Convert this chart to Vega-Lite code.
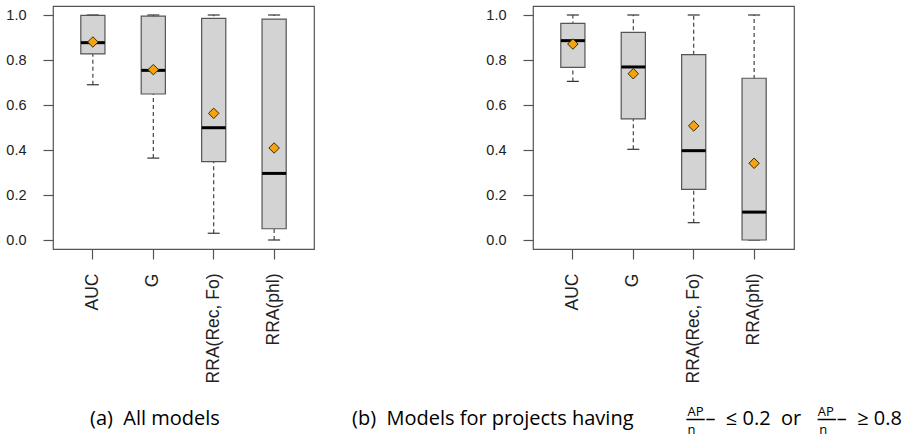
{
  "$schema": "https://vega.github.io/schema/vega-lite/v6.json",
  "padding": 5,
  "bounds": "flush",
  "spacing": 219,
  "background": "white",
  "config": {
    "view": {"stroke": "#555555", "strokeWidth": 1.2},
    "font": "Liberation Sans",
    "axis": {"grid": false, "domain": false, "tickColor": "#555555", "tickWidth": 1.2, "tickSize": 10, "labelColor": "#222222", "labelFont": "Liberation Sans"}
  },
  "datasets": {
    "a": [
      {"metric": "AUC", "lo": 0.69, "q1": 0.827, "med": 0.877, "q3": 0.998, "hi": 1.0, "mean": 0.88},
      {"metric": "G", "lo": 0.364, "q1": 0.649, "med": 0.754, "q3": 0.995, "hi": 1.0, "mean": 0.757},
      {"metric": "RRA(Rec, Fo)", "lo": 0.03, "q1": 0.348, "med": 0.499, "q3": 0.985, "hi": 1.0, "mean": 0.563},
      {"metric": "RRA(phl)", "lo": 0.0, "q1": 0.05, "med": 0.296, "q3": 0.982, "hi": 1.0, "mean": 0.409}
    ],
    "b": [
      {"metric": "AUC", "lo": 0.705, "q1": 0.767, "med": 0.886, "q3": 0.963, "hi": 1.0, "mean": 0.871},
      {"metric": "G", "lo": 0.403, "q1": 0.538, "med": 0.769, "q3": 0.923, "hi": 1.0, "mean": 0.739},
      {"metric": "RRA(Rec, Fo)", "lo": 0.077, "q1": 0.225, "med": 0.397, "q3": 0.824, "hi": 1.0, "mean": 0.507},
      {"metric": "RRA(phl)", "lo": 0.0, "q1": 0.0, "med": 0.124, "q3": 0.719, "hi": 1.0, "mean": 0.341}
    ]
  },
  "hconcat": [
    {
      "width": 261,
      "height": 243,
      "data": {"name": "a"},
      "title": {"text": "(a)\u00a0\u00a0All models", "orient": "bottom", "anchor": "start", "frame": "group", "dx": 37, "offset": 26, "font": "Open Sans", "fontSize": 20, "fontWeight": "normal", "color": "#000000"},
      "encoding": {
        "x": {"field": "metric", "type": "nominal", "sort": ["AUC", "G", "RRA(Rec, Fo)", "RRA(phl)"],
              "scale": {"paddingInner": 0.6, "paddingOuter": 0.46},
              "axis": {"title": null, "labelAngle": -90, "labelFontSize": 17.5, "labelPadding": 14}}
      },
      "layer": [
        {"mark": {"type": "rule", "strokeDash": [4, 3], "color": "#333333", "strokeWidth": 1.1, "opacity": 1},
         "encoding": {"y": {"field": "lo", "type": "quantitative", "scale": {"domain": [-0.04, 1.04], "nice": false, "zero": false},
                            "axis": {"title": null, "values": [0, 0.2, 0.4, 0.6, 0.8, 1.0], "format": ".1f", "labelFontSize": 14.5, "labelPadding": 17}},
                      "y2": {"field": "hi"}}},
        {"mark": {"type": "tick", "size": 12, "thickness": 1.2, "color": "#333333", "opacity": 1},
         "encoding": {"y": {"field": "lo", "type": "quantitative"}}},
        {"mark": {"type": "tick", "size": 12, "thickness": 1.2, "color": "#333333", "opacity": 1},
         "encoding": {"y": {"field": "hi", "type": "quantitative"}}},
        {"mark": {"type": "bar", "fill": "#d3d3d3", "stroke": "#555555", "strokeWidth": 1.2, "opacity": 1},
         "encoding": {"y": {"field": "q1", "type": "quantitative"}, "y2": {"field": "q3"}}},
        {"mark": {"type": "tick", "size": 24, "thickness": 3, "color": "#000000", "opacity": 1},
         "encoding": {"y": {"field": "med", "type": "quantitative"}}},
        {"mark": {"type": "point", "shape": "diamond", "size": 110, "filled": true, "fill": "#f5a30f", "stroke": "#3a2a00", "strokeWidth": 1, "opacity": 1},
         "encoding": {"y": {"field": "mean", "type": "quantitative"}}}
      ]
    },
    {
      "width": 261,
      "height": 243,
      "data": {"name": "b"},
      "title": {"text": "(b)\u00a0\u00a0Models for projects having\u00a0\u00a0\u00a0\u00a0\u00a0\u00a0\u00a0\u00a0\u00a0\u00a0\u2014\u2013\u00a0\u00a0\u2264\u00a00.2\u00a0\u00a0or\u00a0\u00a0\u00a0\u2014\u2013\u00a0\u00a0\u2265\u00a00.8",
                "orient": "bottom", "anchor": "start", "frame": "group", "dx": -181, "offset": -27,
                "font": "Open Sans", "fontSize": 20, "fontWeight": "normal", "color": "#000000"},
      "encoding": {
        "x": {"field": "metric", "type": "nominal", "sort": ["AUC", "G", "RRA(Rec, Fo)", "RRA(phl)"],
              "scale": {"paddingInner": 0.6, "paddingOuter": 0.46},
              "axis": {"title": ["AP\u2003\u2003\u2003\u2003\u2003\u2003\u2003\u2003\u00a0\u00a0\u00a0AP", "\u00a0n\u2003\u2003\u2003\u2003\u2003\u2003\u2003\u2003\u2003\u00a0\u00a0n"],
                       "titleFont": "Open Sans", "titleFontSize": 13, "titleFontWeight": "normal", "titleColor": "#000000", "titleLineHeight": 18,
                       "titleAlign": "left", "titleX": 154, "titleY": 166, "titleBaseline": "alphabetic",
                       "labelAngle": -90, "labelFontSize": 17.5, "labelPadding": 14}}
      },
      "layer": [
        {"mark": {"type": "rule", "strokeDash": [4, 3], "color": "#333333", "strokeWidth": 1.1, "opacity": 1},
         "encoding": {"y": {"field": "lo", "type": "quantitative", "scale": {"domain": [-0.04, 1.04], "nice": false, "zero": false},
                            "axis": {"title": null, "values": [0, 0.2, 0.4, 0.6, 0.8, 1.0], "format": ".1f", "labelFontSize": 14.5, "labelPadding": 17}},
                      "y2": {"field": "hi"}}},
        {"mark": {"type": "tick", "size": 12, "thickness": 1.2, "color": "#333333", "opacity": 1},
         "encoding": {"y": {"field": "lo", "type": "quantitative"}}},
        {"mark": {"type": "tick", "size": 12, "thickness": 1.2, "color": "#333333", "opacity": 1},
         "encoding": {"y": {"field": "hi", "type": "quantitative"}}},
        {"mark": {"type": "bar", "fill": "#d3d3d3", "stroke": "#555555", "strokeWidth": 1.2, "opacity": 1},
         "encoding": {"y": {"field": "q1", "type": "quantitative"}, "y2": {"field": "q3"}}},
        {"mark": {"type": "tick", "size": 24, "thickness": 3, "color": "#000000", "opacity": 1},
         "encoding": {"y": {"field": "med", "type": "quantitative"}}},
        {"mark": {"type": "point", "shape": "diamond", "size": 110, "filled": true, "fill": "#f5a30f", "stroke": "#3a2a00", "strokeWidth": 1, "opacity": 1},
         "encoding": {"y": {"field": "mean", "type": "quantitative"}}}
      ]
    }
  ]
}
